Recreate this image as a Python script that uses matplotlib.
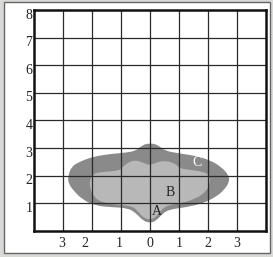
import numpy as np
import matplotlib
matplotlib.use("Agg")
import matplotlib.pyplot as plt
from matplotlib.path import Path
from matplotlib.patches import PathPatch, Rectangle

# ---- data ----
x_ticks = [-3, -2, -1, 0, 1, 2, 3]
x_labels = ["3", "2", "1", "0", "1", "2", "3"]
y_ticks = [1, 2, 3, 4, 5, 6, 7, 8]
y_labels = ["1", "2", "3", "4", "5", "6", "7", "8"]

# outer region C (dark grey)
c_x = [-2.84, -2.72, -2.44, -1.98, -1.40, -0.83, -0.48, -0.25, 0.00, 0.26, 0.49,
       1.01, 1.59, 2.05, 2.45, 2.71, 2.74, 2.56, 2.28, 1.82, 1.24, 0.67, 0.44,
       0.21, 0.00, -0.25, -0.48, -0.77, -1.29, -1.86, -2.32, -2.67, -2.82]
c_y = [1.96, 2.32, 2.50, 2.68, 2.78, 2.83, 2.90, 3.12, 3.17, 3.12, 2.90,
       2.80, 2.71, 2.56, 2.32, 2.02, 1.78, 1.48, 1.23, 0.99, 0.85, 0.77, 0.63,
       0.36, 0.28, 0.36, 0.63, 0.82, 0.85, 0.90, 1.11, 1.48, 1.72]

# inner region B / A (light grey)
b_x = [-2.09, -1.98, -1.52, -1.06, -0.94, -0.72, -0.52, -0.31, -0.03, 0.21, 0.44,
       0.70, 0.90, 1.01, 1.41, 1.82, 2.05, 2.07, 1.93, 1.59, 1.07, 0.61, 0.38,
       0.21, 0.03, -0.20, -0.37, -0.60, -1.17, -1.75, -1.98, -2.07]
b_y = [1.78, 2.08, 2.14, 2.18, 2.32, 2.50, 2.55, 2.50, 2.36, 2.47, 2.53,
       2.50, 2.40, 2.26, 2.20, 2.14, 2.02, 1.72, 1.41, 1.17, 0.99, 0.93, 0.75,
       0.51, 0.40, 0.45, 0.63, 0.90, 0.93, 1.05, 1.29, 1.54]

region_labels = ["A", "B", "C"]
label_x = [0.22, 0.69, 1.61]
label_y = [0.71, 1.39, 2.48]
label_colors = ["#222222", "#222222", "white"]


def smooth_closed_path(xs, ys):
    pts = np.column_stack([xs, ys])
    n = len(pts)
    mids = (pts + np.roll(pts, -1, axis=0)) / 2.0
    verts = [mids[-1]]
    codes = [Path.MOVETO]
    for i in range(n):
        verts += [pts[i], mids[i]]
        codes += [Path.CURVE3, Path.CURVE3]
    verts.append(mids[-1])
    codes.append(Path.CLOSEPOLY)
    return Path(verts, codes)


fig = plt.figure(figsize=(2.73, 2.57), dpi=100)
fig.patch.set_facecolor("#d9d9d6")

# white panel (background axes)
bg = fig.add_axes([0, 0, 1, 1], zorder=0)
bg.set_xlim(0, 273)
bg.set_ylim(257, 0)
bg.axis("off")
bg.add_patch(Rectangle((4, 2), 266, 251, facecolor="white",
                       edgecolor="#666666", linewidth=1.0))

ax = fig.add_axes([34.3 / 273, (257 - 230.7) / 257, 231.7 / 273, 220.7 / 257],
                  zorder=2)
ax.set_xlim(-4, 4)
ax.set_ylim(0, 8)
ax.set_facecolor("white")

ax.add_patch(PathPatch(smooth_closed_path(c_x, c_y), facecolor="#8a8a8a",
                       edgecolor="none", zorder=1))
ax.add_patch(PathPatch(smooth_closed_path(b_x, b_y), facecolor="#b8b8b8",
                       edgecolor="none", zorder=2))

# grid
for gx in range(-3, 4):
    ax.axvline(gx, color="#2a2a2a", linewidth=0.9, zorder=3)
for gy in range(1, 8):
    ax.axhline(gy, color="#2a2a2a", linewidth=0.9, zorder=3)

for s in ax.spines.values():
    s.set_linewidth(1.8)
    s.set_color("#111111")
    s.set_zorder(5)

ax.set_xticks([])
ax.set_yticks([])

font = ["Liberation Serif", "DejaVu Serif"]
x_offsets = [-0.05, -0.25, -0.07, 0.0, 0.0, 0.0, 0.0]
for xv, lab, off in zip(x_ticks, x_labels, x_offsets):
    ax.text(xv + off, -0.45, lab, ha="center", va="center", fontsize=10,
            family=font, color="#222222", clip_on=False)
for yv, lab in zip(y_ticks, y_labels):
    ax.text(-4.07, yv + 0.05, lab, ha="right", va="top", fontsize=10,
            family=font, color="#222222", clip_on=False)

for lab, lx, ly, lc in zip(region_labels, label_x, label_y, label_colors):
    ax.text(lx, ly, lab, ha="center", va="center", fontsize=10,
            family=font, color=lc, zorder=6)

fig.savefig("out.png", dpi=100, facecolor=fig.get_facecolor())
